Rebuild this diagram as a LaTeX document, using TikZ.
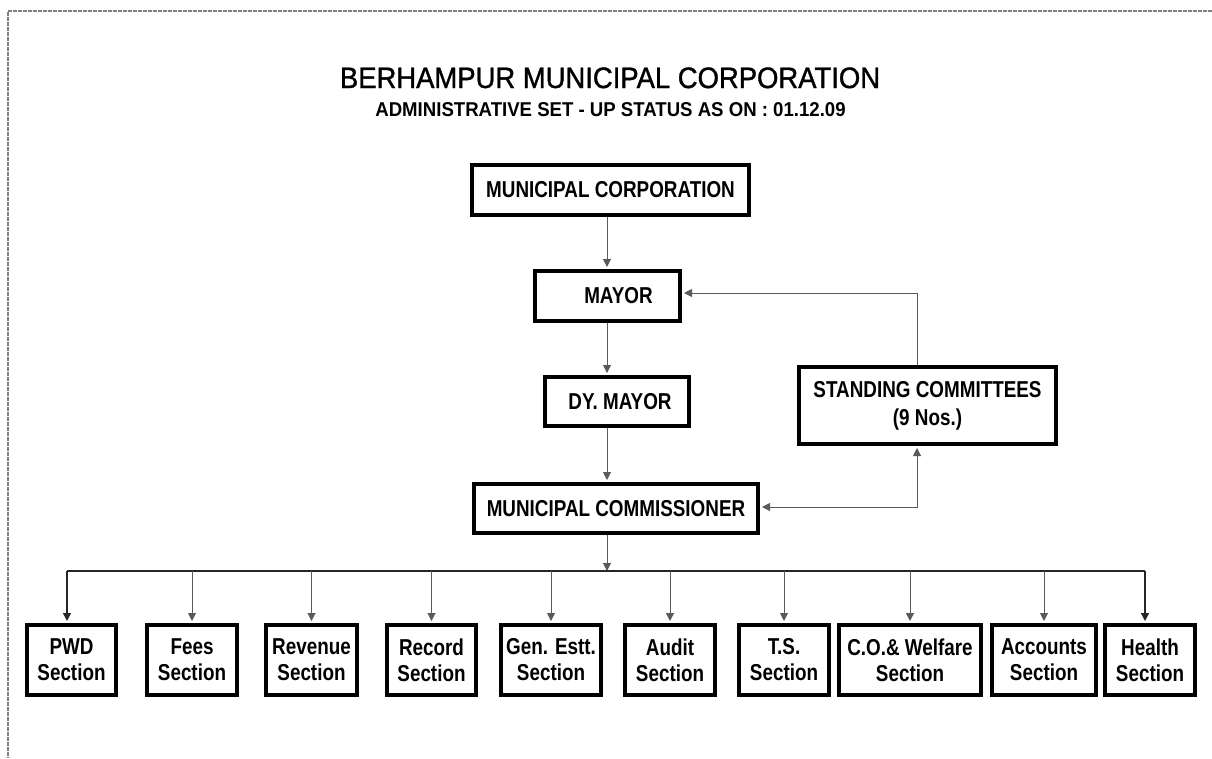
\documentclass[tikz,border=0pt]{standalone}
\usepackage{fontspec}
\setmainfont{Liberation Sans}
\newfontfamily\boxfont[FakeStretch=0.82]{Liberation Sans}
\newfontfamily\titlefont[FakeStretch=0.93,FakeBold=1.2]{Liberation Sans}
\newfontfamily\subfont[FakeStretch=0.93]{Liberation Sans}
\usetikzlibrary{arrows.meta}
\definecolor{lineg}{HTML}{5A5A5A}
\tikzset{
  orgbox/.style={draw=black, line width=4pt, fill=white, inner sep=0pt, align=center,
    font=\boxfont\bfseries\fontsize{23}{26}\selectfont},
  secbox/.style={orgbox, minimum height=70pt},
  conn/.style={draw=lineg, line width=1pt, -{Triangle[width=8pt,length=8pt]}, shorten >=2pt},
  conn2/.style={draw=lineg, line width=1pt, {Triangle[width=8pt,length=8pt]}-{Triangle[width=8pt,length=8pt]}, shorten >=2pt, shorten <=2pt},
  busline/.style={draw=black!85, line width=1.4pt},
  pageedge/.style={draw=gray, line width=1.3pt, dash pattern=on 4pt off 1pt}
}
\begin{document}
\begin{tikzpicture}[x=1pt,y=-1pt]
\useasboundingbox (0,0) rectangle (1212,758);
% page edge
\draw[pageedge] (1212,11) -- (8,11) -- (8,758);
% titles
\node[anchor=base, inner sep=0pt, font=\titlefont\fontsize{29.5}{34}\selectfont] (title) at (610,88) {BERHAMPUR MUNICIPAL CORPORATION};
\node[anchor=base, inner sep=0pt, font=\subfont\bfseries\fontsize{20}{22}\selectfont] (subtitle) at (610.5,116) {ADMINISTRATIVE SET - UP STATUS AS ON : 01.12.09};
% upper boxes
\node[orgbox, minimum width=277pt, minimum height=50pt] (mc) at (610.5,190) {MUNICIPAL CORPORATION};
\node[orgbox, minimum width=145pt, minimum height=50pt] (mayor) at (607.5,296) {\hspace*{22pt}MAYOR};
\node[orgbox, minimum width=144pt, minimum height=49pt] (dymayor) at (617,401.5) {\hspace*{6pt}DY. MAYOR};
\node[orgbox, minimum width=284pt, minimum height=49pt] (mcom) at (616,508.5) {MUNICIPAL COMMISSIONER};
\node[orgbox, minimum width=257pt, minimum height=77pt, font=\boxfont\bfseries\fontsize{23}{28}\selectfont] (sc) at (927.5,405.5) {STANDING COMMITTEES\\(9 Nos.)};
% section boxes
\node[secbox, minimum width=89pt]  (pwd)  at (71.5,660) {PWD\\Section};
\node[secbox, minimum width=90pt]  (fees) at (192,660) {Fees\\Section};
\node[secbox, minimum width=91pt]  (rev)  at (311.5,660) {Revenue\\Section};
\node[secbox, minimum width=89pt]  (rec)  at (431.5,660) {Record\\Section};
\node[secbox, minimum width=100pt] (gen)  at (551,660) {Gen. Estt.\\Section};
\node[secbox, minimum width=90pt]  (aud)  at (670,660) {Audit\\Section};
\node[secbox, minimum width=90pt]  (ts)   at (784,660) {T.S.\\Section};
\node[secbox, minimum width=142pt] (cow)  at (910,660) {C.O.\& Welfare\\Section};
\node[secbox, minimum width=104pt] (acc)  at (1044,660) {Accounts\\Section};
\node[secbox, minimum width=90pt]  (hea)  at (1150,660) {Health\\Section};
% spine and bus coordinates
\coordinate (spine) at (607,0);
\coordinate (busL) at (67,571);
\coordinate (busR) at (1145,571);
\coordinate (busM) at (607,571);
\coordinate (scx) at (917,0);
% vertical chain
\draw[conn] (mc.south -| spine) -- (mayor.north -| spine);
\draw[conn] (mayor.south -| spine) -- (dymayor.north -| spine);
\draw[conn] (dymayor.south -| spine) -- (mcom.north -| spine);
\draw[conn, shorten >=0pt] (mcom.south -| spine) -- (busM);
% standing committees links
\draw[conn] (sc.north -| scx) |- ([yshift=3pt]mayor.east);
\draw[conn2] ([yshift=1.5pt]mcom.east) -| (sc.south -| scx);
% bus
\draw[busline] (busL) -- (busR);
\draw[conn, draw=black!85, line width=1.4pt] (busL) -- (busL |- pwd.north);
\draw[conn, draw=black!85, line width=1.4pt] (busR) -- (busR |- hea.north);
\foreach \n in {fees,rev,rec,gen,aud,ts,cow,acc}{
  \draw[conn] (busM -| \n.north) -- (\n.north);
}
\end{tikzpicture}
\end{document}
